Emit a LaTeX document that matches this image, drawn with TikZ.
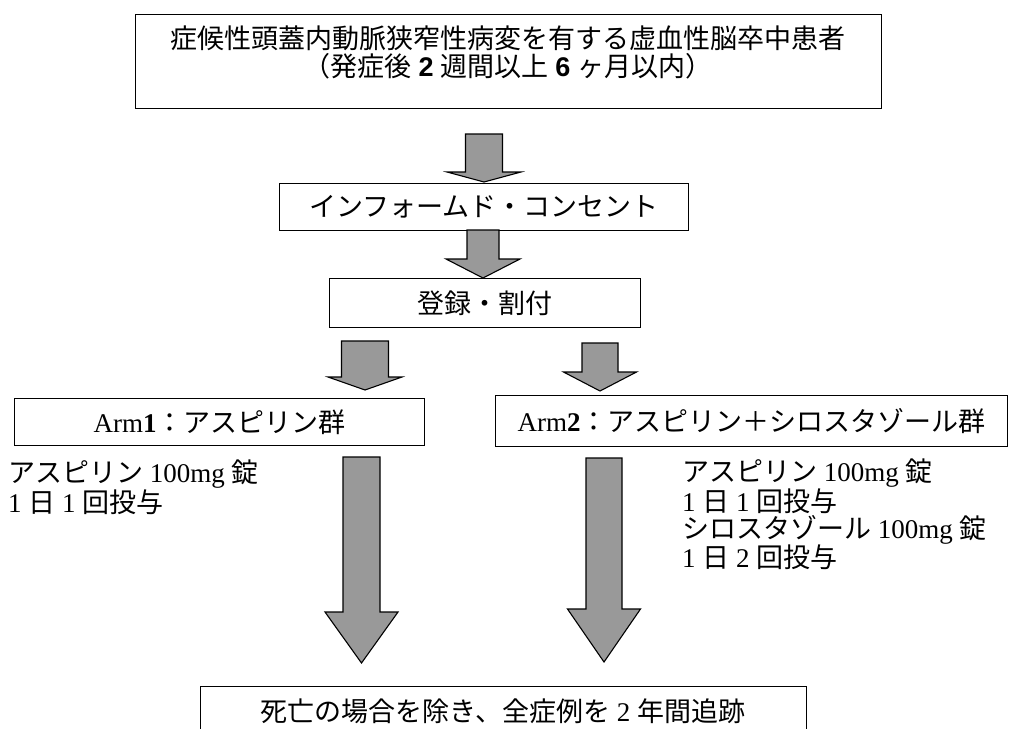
\documentclass[tikz,border=0pt]{standalone}
\usepackage{fontspec}
\setmainfont{Liberation Serif}
\newfontfamily\jp{Noto Sans CJK JP}
\newfontfamily\lsans{Liberation Sans}
\definecolor{arrowgray}{RGB}{153,153,153}
\tikzset{
  box/.style={draw=black, line width=1.4pt, inner sep=0pt, anchor=north west},
  blockarrow/.style={draw=black, line width=1.1pt, fill=arrowgray, line join=miter},
  txt/.style={font=\fontsize{27}{27}\selectfont, inner sep=0pt},
}
\newcommand{\barrow}[6]{%
  \draw[blockarrow] (#1-#2,#3) -- (#1+#2,#3) -- (#1+#2,#4) -- (#1+#5,#4)
    -- (#1,#6) -- (#1-#5,#4) -- (#1-#2,#4) -- cycle;}
\begin{document}
\begin{tikzpicture}[x=1pt,y=-1pt]
\useasboundingbox (0,0) rectangle (1011,728);
\clip (0,0) rectangle (1011,728);
% boxes
\node[box, minimum width=746pt, minimum height=94pt] (top) at (135,14) {};
\node[box, minimum width=409pt, minimum height=47pt] (ic) at (279,183) {};
\node[box, minimum width=311pt, minimum height=49pt] (reg) at (329,278) {};
\node[box, minimum width=410pt, minimum height=47pt] (arm1) at (14,398) {};
\node[box, minimum width=512pt, minimum height=51pt] (arm2) at (495,395) {};
\node[box, minimum width=606pt, minimum height=60pt] (fin) at (200,686) {};
% texts
\node[txt, align=center, font=\fontsize{27}{28}\selectfont] (t1) at (508,52)
  {{\jp 症候性頭蓋内動脈狭窄性病変を有する虚血性脳卒中患者}\\
   {\jp （発症後} {\lsans\bfseries 2} {\jp 週間以上} {\lsans\bfseries 6} {\jp ヶ月以内）}};
\node[txt] (ict) at (ic.center) {\jp インフォームド・コンセント};
\node[txt] (regt) at (reg.center) {\jp 登録・割付};
\node[txt] (arm1t) at (arm1.center) {Arm\textbf{1}{\jp ：アスピリン群}};
\node[txt] (arm2t) at (arm2.center) {Arm\textbf{2}{\jp ：アスピリン＋シロスタゾール群}};
\node[txt, anchor=west, align=left] (ldose) at (8,487.5)
  {{\jp アスピリン} 100mg {\jp 錠}\\
   1 {\jp 日} 1 {\jp 回投与}};
\node[txt, anchor=west, align=left] (rdose) at (682,514.5)
  {{\jp アスピリン} 100mg {\jp 錠}\\
   1 {\jp 日} 1 {\jp 回投与}\\
   {\jp シロスタゾール} 100mg {\jp 錠}\\
   1 {\jp 日} 2 {\jp 回投与}};
\node[txt] (fint) at (503,711) {{\jp 死亡の場合を除き、全症例を} 2 {\jp 年間追跡}};
% block arrows
\barrow{484}{18.5}{134}{172}{37}{182}
\barrow{483}{16}{230}{259}{37}{278}
\barrow{365}{23.5}{341}{377}{37}{390}
\barrow{600}{18}{343}{372}{36.5}{391}
\barrow{361.5}{18.5}{457}{612}{36.5}{663}
\barrow{604}{18}{458}{609}{36.5}{662}
\end{tikzpicture}
\end{document}
